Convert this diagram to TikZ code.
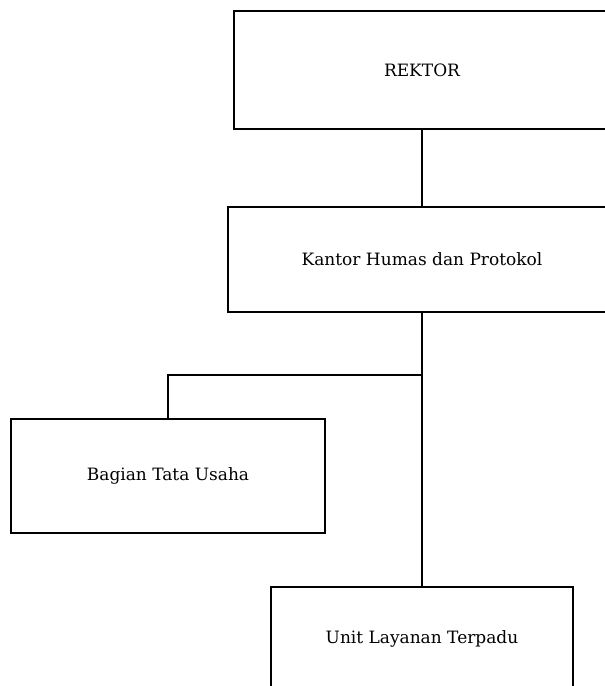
\documentclass[tikz,border=0pt]{standalone}
\usepackage{fontspec}
\setmainfont{DejaVu Serif}
\begin{document}
\begin{tikzpicture}[x=1pt,y=-1pt,
  box/.style={draw, line width=1.2pt, inner sep=0pt, align=center,
    font=\fontsize{17}{20}\selectfont},
  conn/.style={line width=1.2pt}]
\useasboundingbox (0,0) rectangle (605,686);
\clip (0,0) rectangle (605,686);
\node[box, minimum width=376pt, minimum height=118pt] (rektor) at (422,70) {REKTOR};
\node[box, minimum width=388pt, minimum height=105pt] (kantor) at (422,259.5) {Kantor Humas dan Protokol};
\node[box, minimum width=314pt, minimum height=114pt] (bagian) at (168,476) {Bagian Tata Usaha};
\node[box, minimum width=302pt, minimum height=104pt] (unit) at (422,639) {Unit Layanan Terpadu};
\coordinate (j) at (422,375);
\draw[conn] (rektor.south) -- (kantor.north);
\draw[conn] (kantor.south) -- (j);
\draw[conn] (j) -- (unit.north);
\draw[conn] (j) -| (bagian.north);
\end{tikzpicture}
\end{document}
